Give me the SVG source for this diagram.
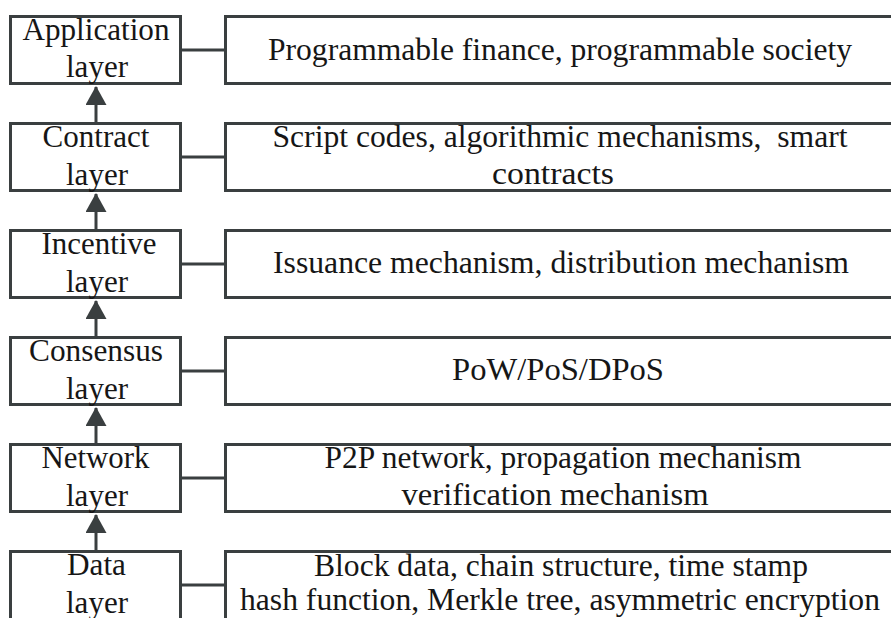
<svg xmlns="http://www.w3.org/2000/svg" width="891" height="618" viewBox="0 0 891 618">
<defs>
<style>
.box{fill:#fff;stroke:#3a3f40;stroke-width:3}
.lbl{font-size:31px;fill:#161616;text-anchor:middle}
.desc{font-size:31.5px;fill:#161616;text-anchor:middle}
.conn{stroke:#3a3f40;stroke-width:3;fill:none}
</style>
<marker id="ah" markerUnits="userSpaceOnUse" markerWidth="19" markerHeight="21" viewBox="0 0 19 21" refX="18" refY="10.5" orient="auto">
<path d="M0,0 L19,10.5 L0,21 z" fill="#3a3f40"/>
</marker>
</defs>
<rect width="891" height="618" fill="#fff"/>

<g id="connectors">
<line class="conn" x1="182" y1="50" x2="225" y2="50"/>
<line class="conn" x1="182" y1="157" x2="225" y2="157"/>
<line class="conn" x1="182" y1="264" x2="225" y2="264"/>
<line class="conn" x1="182" y1="371" x2="225" y2="371"/>
<line class="conn" x1="182" y1="478" x2="225" y2="478"/>
<line class="conn" x1="182" y1="585" x2="225" y2="585"/>
<line class="conn" x1="96" y1="122" x2="96" y2="87" marker-end="url(#ah)"/>
<line class="conn" x1="96" y1="229" x2="96" y2="194" marker-end="url(#ah)"/>
<line class="conn" x1="96" y1="336" x2="96" y2="301" marker-end="url(#ah)"/>
<line class="conn" x1="96" y1="443" x2="96" y2="408" marker-end="url(#ah)"/>
<line class="conn" x1="96" y1="550" x2="96" y2="515" marker-end="url(#ah)"/>
</g>

<g font-family="Liberation Serif, Times New Roman, serif">
<g id="application-layer">
<rect class="box" x="10.5" y="16.5" width="170" height="67"/>
<text class="lbl" x="96" y="39.5" textLength="147" lengthAdjust="spacingAndGlyphs">Application</text>
<text class="lbl" x="97" y="77" textLength="62" lengthAdjust="spacingAndGlyphs">layer</text>
</g>
<g id="application-desc">
<rect class="box" x="225.5" y="16.5" width="700" height="67"/>
<text class="desc" x="560" y="59.5" textLength="584" lengthAdjust="spacingAndGlyphs">Programmable finance, programmable society</text>
</g>

<g id="contract-layer">
<rect class="box" x="10.5" y="123.5" width="170" height="67"/>
<text class="lbl" x="96" y="146.5" textLength="107" lengthAdjust="spacingAndGlyphs">Contract</text>
<text class="lbl" x="97" y="184.5" textLength="62" lengthAdjust="spacingAndGlyphs">layer</text>
</g>
<g id="contract-desc">
<rect class="box" x="225.5" y="123.5" width="700" height="67"/>
<text class="desc" x="560" y="147" xml:space="preserve" textLength="575" lengthAdjust="spacingAndGlyphs">Script codes, algorithmic mechanisms,  smart</text>
<text class="desc" x="553" y="184" textLength="122" lengthAdjust="spacingAndGlyphs">contracts</text>
</g>

<g id="incentive-layer">
<rect class="box" x="10.5" y="230.5" width="170" height="67"/>
<text class="lbl" x="99" y="253.5" textLength="115" lengthAdjust="spacingAndGlyphs">Incentive</text>
<text class="lbl" x="97" y="291.5" textLength="62" lengthAdjust="spacingAndGlyphs">layer</text>
</g>
<g id="incentive-desc">
<rect class="box" x="225.5" y="230.5" width="700" height="67"/>
<text class="desc" x="561" y="273" textLength="576" lengthAdjust="spacingAndGlyphs">Issuance mechanism, distribution mechanism</text>
</g>

<g id="consensus-layer">
<rect class="box" x="10.5" y="337.5" width="170" height="67"/>
<text class="lbl" x="96" y="360.5" textLength="134" lengthAdjust="spacingAndGlyphs">Consensus</text>
<text class="lbl" x="97" y="398.5" textLength="62" lengthAdjust="spacingAndGlyphs">layer</text>
</g>
<g id="consensus-desc">
<rect class="box" x="225.5" y="337.5" width="700" height="67"/>
<text class="desc" x="558" y="380" textLength="212" lengthAdjust="spacingAndGlyphs">PoW/PoS/DPoS</text>
</g>

<g id="network-layer">
<rect class="box" x="10.5" y="444.5" width="170" height="67"/>
<text class="lbl" x="95.5" y="467.5" textLength="108" lengthAdjust="spacingAndGlyphs">Network</text>
<text class="lbl" x="97" y="505.5" textLength="62" lengthAdjust="spacingAndGlyphs">layer</text>
</g>
<g id="network-desc">
<rect class="box" x="225.5" y="444.5" width="700" height="67"/>
<text class="desc" x="563" y="468" textLength="477" lengthAdjust="spacingAndGlyphs">P2P network, propagation mechanism</text>
<text class="desc" x="555" y="505" textLength="307" lengthAdjust="spacingAndGlyphs">verification mechanism</text>
</g>

<g id="data-layer">
<rect class="box" x="10.5" y="551.5" width="170" height="90"/>
<text class="lbl" x="96.5" y="574.5" textLength="59" lengthAdjust="spacingAndGlyphs">Data</text>
<text class="lbl" x="97" y="612.5" textLength="62" lengthAdjust="spacingAndGlyphs">layer</text>
</g>
<g id="data-desc">
<rect class="box" x="225.5" y="551.5" width="700" height="90"/>
<text class="desc" x="561" y="576" textLength="494" lengthAdjust="spacingAndGlyphs">Block data, chain structure, time stamp</text>
<text class="desc" x="560" y="610" textLength="640" lengthAdjust="spacingAndGlyphs">hash function, Merkle tree, asymmetric encryption</text>
</g>
</g>
</svg>
